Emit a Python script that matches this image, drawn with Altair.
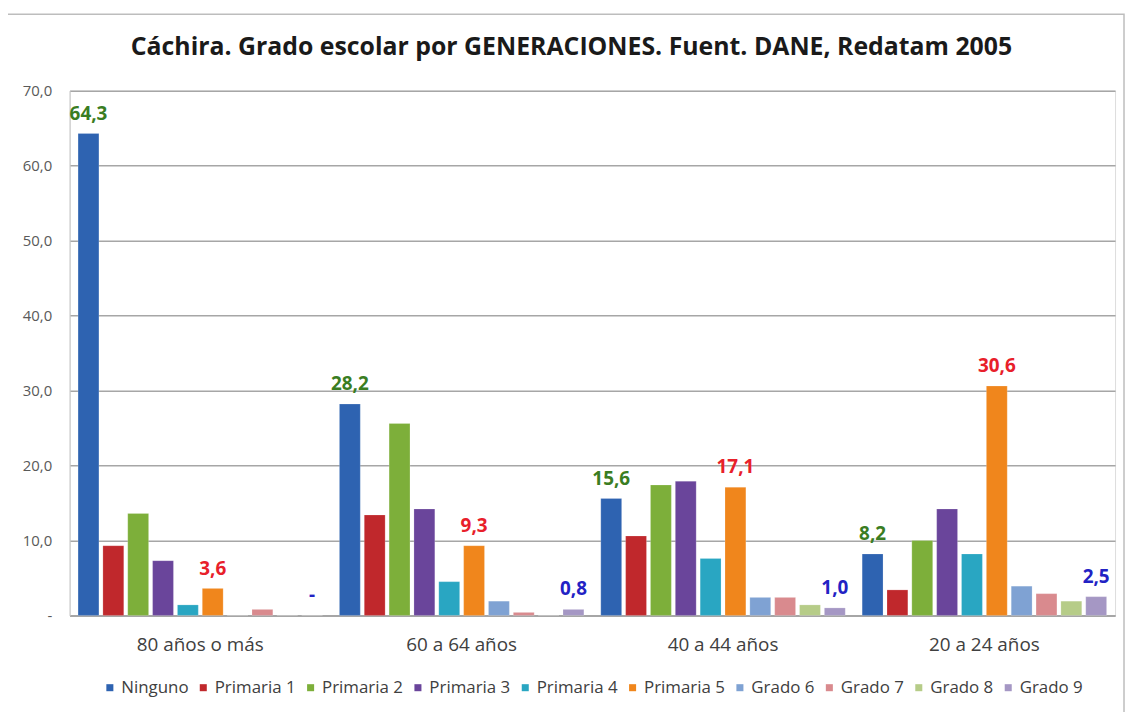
import altair as alt
import pandas as pd

title_text = "Cáchira. Grado escolar por GENERACIONES. Fuent. DANE, Redatam 2005"
groups = ["80 años o más", "60 a 64 años", "40 a 44 años", "20 a 24 años"]
series = ["Ninguno", "Primaria 1", "Primaria 2", "Primaria 3", "Primaria 4",
          "Primaria 5", "Grado 6", "Grado 7", "Grado 8", "Grado 9"]
colors = ["#2E63B1", "#C0282C", "#7DAF3A", "#6A459B", "#29A6C2",
          "#F0861C", "#7FA2D3", "#D98A8E", "#B6CC88", "#A597C4"]

v_80 = [64.3, 9.3, 13.6, 7.3, 1.4, 3.6, 0.0, 0.8, 0.0, 0.0]
v_60 = [28.2, 13.4, 25.6, 14.2, 4.5, 9.3, 1.9, 0.4, 0.0, 0.8]
v_40 = [15.6, 10.6, 17.4, 17.9, 7.6, 17.1, 2.4, 2.4, 1.4, 1.0]
v_20 = [8.2, 3.4, 10.0, 14.2, 8.2, 30.6, 3.9, 2.9, 1.9, 2.5]

labelled = ["Ninguno", "Primaria 5", "Grado 9"]
label_colors = ["#3A7D22", "#E8202A", "#2222C4"]

rows = []
for g, vals in zip(groups, [v_80, v_60, v_40, v_20]):
    for s, v in zip(series, vals):
        rows.append({"grupo": g, "serie": s, "valor": v})
df = pd.DataFrame(rows)

FONT = "Open Sans"

x_enc = alt.X("grupo:N", sort=groups, title=None,
              scale=alt.Scale(paddingInner=0, paddingOuter=0),
              axis=alt.Axis(labelAngle=0, labelFontSize=19, labelColor="#404040",
                            labelFont=FONT, ticks=False, labelPadding=20,
                            domainColor="#A0A0A0", domainWidth=1.5, grid=False))
xoff = alt.XOffset("serie:N", sort=series,
                   scale=alt.Scale(paddingInner=0.16, paddingOuter=0.34))
y_enc = alt.Y("valor:Q", title=None,
              scale=alt.Scale(domain=[0, 70], nice=False),
              axis=alt.Axis(values=[0, 10, 20, 30, 40, 50, 60, 70],
                            labelExpr="datum.value == 0 ? '-' : replace(format(datum.value, '.1f'), '.', ',')",
                            labelFontSize=15, labelColor="#595959", labelFont=FONT,
                            ticks=False, labelPadding=18, domain=True,
                            domainColor="#C8C8C8", gridColor="#A6A6A6", gridWidth=1.5))

bars = alt.Chart(df).mark_bar(stroke="white", strokeWidth=0.5, strokeOpacity=0.4).encode(
    x=x_enc,
    xOffset=xoff,
    y=y_enc,
    color=alt.Color("serie:N", sort=series,
                    scale=alt.Scale(domain=series, range=colors),
                    legend=alt.Legend(title=None, orient="none", direction="horizontal",
                                      columns=10, legendX=32, legendY=592,
                                      symbolType="square", symbolSize=50,
                                      symbolStrokeWidth=0, labelFontSize=17,
                                      labelFont=FONT, labelColor="#404040",
                                      columnPadding=6, symbolOffset=0, labelOffset=3)),
)

texts = alt.Chart(df).transform_filter(
    alt.FieldOneOfPredicate(field="serie", oneOf=labelled)
).transform_calculate(
    txt="datum.valor == 0 ? '-' : replace(format(datum.valor, '.1f'), '.', ',')"
).mark_text(fontSize=19, fontWeight="bold", font=FONT, dy=-10, baseline="bottom").encode(
    x=alt.X("grupo:N", sort=groups),
    xOffset=alt.XOffset("serie:N", sort=series),
    y=alt.Y("valor:Q"),
    text="txt:N",
    color=alt.Color("serie:N", scale=alt.Scale(domain=labelled, range=label_colors), legend=None),
)

frame = alt.Chart(pd.DataFrame({"a": [0]})).mark_rect(
    fill=None, stroke="#BDBDBD", strokeWidth=1.5
).encode(x=alt.value(-63), x2=alt.value(1061), y=alt.value(-77), y2=alt.value(640))

title_mark = alt.Chart(pd.DataFrame({"t": [title_text]})).mark_text(
    font=FONT, fontSize=25, fontWeight="bold", color="#1A1A1A",
    align="center", baseline="middle"
).encode(x=alt.value(505), y=alt.value(-44), text="t:N")

chart = alt.layer(frame, bars, texts, title_mark).resolve_scale(color="independent").properties(
    width=1052, height=528,
    autosize=alt.AutoSizeParams(type="none"),
    padding={"left": 62, "top": 81, "right": 10, "bottom": 95},
).configure_view(stroke=None).configure(background="white")

chart.save("out.html", embed_options={"renderer": "svg", "actions": False})
